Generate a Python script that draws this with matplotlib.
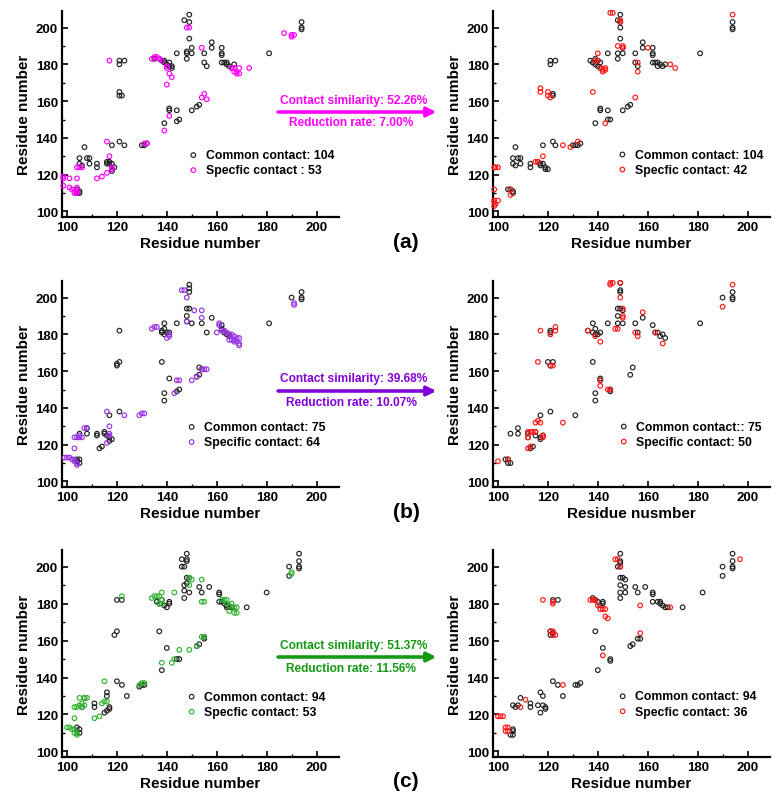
import matplotlib
matplotlib.use('Agg')
import matplotlib.pyplot as plt
from matplotlib.ticker import MultipleLocator

plt.rcParams['font.family'] = ['Liberation Sans', 'DejaVu Sans']
plt.rcParams['font.weight'] = 'bold'

# ==========================================
# 1. DATA (x = residue, y = residue)
# ==========================================
a_left_common = [
    (149, 207), (149, 203), (147, 204), (149, 194), (150, 189), (148, 187), (148, 186), (150, 186), (148, 183), (144, 186),
    (158, 192), (158, 189), (155, 186), (155, 181), (156, 179),
    (162, 189), (162, 186), (162, 185), (162, 181), (163, 181), (164, 181), (164, 180), (165, 179), (166, 178), (167, 180),
    (181, 186), (194, 203), (194, 200), (194, 199),
    (121, 182), (121, 180), (123, 182), (121, 165), (121, 163), (122, 163), (121, 138), (123, 136),
    (130, 136), (131, 136), (132, 137), (107, 135), (105, 129), (105, 126), (106, 125), (108, 129), (109, 129), (109, 126),
    (112, 126), (112, 124), (116, 127), (116, 126), (117, 127), (117, 126), (118, 126), (118, 123), (118, 122), (118, 136), (119, 124),
    (104, 112), (105, 111), (105, 110), (104, 110),
    (135, 183), (137, 183), (138, 182), (139, 182), (139, 181), (140, 180), (141, 179), (142, 178), (141, 181), (142, 179),
    (141, 156), (141, 155), (139, 148), (144, 155), (144, 149), (145, 150), (150, 155), (152, 157), (153, 158)]
a_left_specific = [
    (117, 182), (134, 183), (135, 184), (136, 184), (137, 183), (138, 182), (140, 179), (140, 178), (141, 175), (142, 173), (140, 169),
    (148, 200), (149, 200), (154, 189),
    (166, 178), (167, 178), (167, 176), (168, 176), (168, 175), (169, 178), (169, 175), (173, 178),
    (187, 197), (190, 196), (190, 195), (191, 196),
    (154, 162), (155, 164), (156, 161), (141, 152), (139, 144),
    (116, 138), (117, 130), (116, 121), (118, 124), (118, 123), (114, 119), (112, 118),
    (104, 124), (105, 124), (106, 124), (104, 118), (98.5, 119), (98.5, 118), (98.5, 114), (101, 118),
    (101, 113), (102, 112), (103, 111), (104, 111), (104, 113), (104, 110), (103, 110), (131, 137), (132, 137)]

a_right_common = [
    (149, 207), (149, 203), (149, 200), (149, 194), (148, 204), (148, 186), (150, 186), (148, 183), (150, 189), (144, 186),
    (158, 192), (158, 189), (155, 186), (155, 181), (156, 179),
    (162, 189), (162, 186), (162, 185), (162, 181), (163, 181), (164, 181), (164, 179), (165, 180), (166, 179), (167, 180),
    (181, 186), (194, 203), (194, 200), (194, 199),
    (121, 182), (121, 180), (123, 182), (122, 164), (122, 163), (122, 138), (123, 136), (118, 136),
    (130, 136), (131, 136), (132, 136), (133, 137), (107, 135),
    (106, 129), (106, 126), (107, 125), (108, 129), (109, 129), (109, 126), (113, 126), (113, 124),
    (116, 127), (117, 126), (117, 125), (118, 126), (119, 124), (119, 123), (120, 123),
    (104, 112), (105, 112), (106, 111), (106, 110),
    (137, 182), (138, 181), (139, 180), (140, 179), (141, 178), (140, 182), (141, 181), (139, 183),
    (141, 156), (141, 155), (139, 148), (144, 155), (144, 150), (145, 150), (150, 155), (152, 157), (153, 158)]
a_right_specific = [
    (145, 208), (146, 208), (149, 204), (149, 203), (148, 190), (150, 190), (150, 189), (160, 189), (140, 186),
    (139, 182), (140, 182), (141, 178), (142, 177), (143, 177), (143, 178), (142, 176),
    (156, 181), (156, 176), (169, 180), (171, 178), (194, 207),
    (117, 167), (117, 165), (120, 165), (120, 163), (121, 162), (138, 165), (155, 162), (143, 148),
    (126, 136), (129, 135), (132, 138), (118, 130), (115, 127), (116, 127),
    (98.5, 124), (99, 124), (100, 124), (98.5, 112), (98.5, 106), (98.5, 105), (98.5, 103), (100, 106), (99, 104),
    (105, 112), (105, 109)]

b_left_common = [
    (149, 207), (149, 205), (149, 203), (148, 194), (149, 194), (148, 190), (148, 187), (150, 186), (144, 186),
    (158, 189), (154, 186), (156, 181),
    (162, 185), (162, 183), (163, 181), (164, 180), (165, 179), (181, 186), (190, 200), (194, 203), (194, 200), (194, 199),
    (121, 182), (120, 164), (120, 163), (121, 165), (121, 138), (117, 136),
    (108, 129), (108, 126), (105, 126), (112, 126), (112, 125), (115, 127), (115, 126), (116, 125), (117, 124), (118, 123), (117, 122),
    (113, 118), (114, 119), (104, 112), (105, 112), (105, 110), (104, 111),
    (138, 165), (141, 156), (139, 148), (139, 144), (144, 149), (145, 150), (153, 162), (154, 161), (152, 157), (153, 158),
    (138, 182), (139, 186), (139, 183), (139, 180), (138, 181), (140, 181), (141, 181)]
b_left_specific = [
    (146, 204), (147, 204), (148, 200), (148, 187), (151, 193), (154, 193), (154, 189),
    (134, 183), (135, 184), (136, 184), (140, 178), (141, 179), (141, 180),
    (160, 181), (161, 186), (161, 185), (162, 182), (163, 182), (164, 181), (165, 180), (166, 180), (167, 179), (168, 178),
    (169, 178), (169, 175), (169, 174), (167, 176), (166, 177), (165, 177), (167, 177), (168, 176),
    (191, 197), (191, 196),
    (150, 155), (152, 157), (154, 161), (155, 161), (156, 161), (144, 155), (145, 155), (143, 148),
    (116, 138), (117, 130), (117, 126), (117, 125), (116, 121), (123, 136), (129, 136), (130, 137), (131, 137),
    (103, 118), (103, 124), (104, 124), (105, 124), (106, 124), (107, 129), (108, 129), (105, 125),
    (99, 113), (100, 113), (101, 113), (102, 112), (103, 112), (103, 111), (104, 110), (104, 109)]

b_right_common = [
    (149, 208), (149, 204), (149, 203), (149, 194), (148, 194), (148, 190), (148, 186), (150, 186), (150, 193), (144, 186),
    (158, 189), (155, 186), (156, 181),
    (162, 185), (163, 181), (164, 181), (165, 179), (166, 180), (167, 178), (181, 186), (190, 200), (194, 203), (194, 200), (194, 199),
    (121, 182), (121, 181), (120, 165), (121, 163), (122, 165), (121, 138), (117, 136), (131, 136),
    (105, 126), (108, 129), (108, 126), (112, 126), (112, 124), (115, 127), (115, 125), (117, 124), (117, 123), (118, 125),
    (113, 118), (114, 119), (103, 112), (104, 110), (105, 110), (104, 112),
    (136, 182), (138, 181), (138, 186), (139, 183), (139, 180), (141, 181), (140, 180),
    (138, 165), (141, 156), (141, 155), (139, 148), (139, 144), (145, 149), (145, 150), (154, 162), (153, 158)]
b_right_specific = [
    (145, 208), (146, 208), (145, 207), (149, 208), (149, 200), (147, 183), (148, 183), (150, 194), (150, 190), (150, 189), (158, 192),
    (155, 181), (156, 179), (163, 181), (166, 175), (190, 195), (194, 207),
    (117, 182), (121, 180), (123, 184), (123, 182), (116, 165), (121, 163), (122, 163),
    (136, 182), (139, 179), (141, 176), (141, 155), (141, 152), (145, 150), (144, 150),
    (115, 132), (116, 133), (117, 132), (126, 132),
    (112, 127), (113, 127), (114, 127), (115, 127), (112, 124), (118, 125), (118, 124),
    (112, 118), (113, 119), (100, 111), (104, 112)]

c_left_common = [
    (148, 207), (148, 204), (148, 203), (146, 204), (146, 200), (147, 200),
    (148, 194), (147, 190), (147, 187), (147, 183), (149, 186), (149, 194), (148, 191),
    (153, 189), (154, 186), (157, 189),
    (161, 186), (161, 185), (161, 181), (162, 181), (163, 180), (164, 179), (164, 178), (165, 178), (166, 178), (172, 178),
    (180, 186), (189, 200), (189, 195), (193, 207), (193, 203), (193, 200), (193, 199),
    (120, 182), (122, 182), (119, 163), (120, 165), (120, 138), (122, 136), (124, 130),
    (137, 165), (140, 156), (138, 144), (144, 150), (145, 150), (152, 157), (153, 158), (155, 161), (155, 162),
    (129, 135), (130, 136), (131, 136),
    (116, 132), (116, 130), (115, 121), (116, 122), (117, 123), (117, 124),
    (111, 126), (111, 124), (106, 124), (107, 129), (104, 113), (105, 110), (105, 112),
    (136, 181), (137, 180), (138, 182), (139, 179), (140, 178), (141, 181), (141, 180)]
c_left_specific = [
    (149, 194), (149, 190), (150, 193), (154, 193), (154, 181), (155, 181),
    (134, 183), (135, 184), (136, 184), (137, 184), (138, 182), (138, 186), (143, 186), (137, 180), (138, 180),
    (162, 182), (163, 182), (164, 182), (164, 180), (165, 179), (166, 180), (167, 178), (168, 178), (168, 175), (167, 175), (165, 176),
    (190, 197), (190, 196), (122, 184),
    (149, 155), (152, 157), (154, 162), (155, 162), (145, 155), (142, 148), (143, 150), (138, 148),
    (115, 138), (115, 127), (114, 126), (116, 127), (111, 118), (113, 119), (129, 136), (130, 137), (131, 137),
    (103, 118), (103, 124), (104, 124), (105, 125), (105, 129), (106, 124), (107, 125), (107, 129), (108, 129), (106, 126),
    (100, 113), (101, 113), (102, 112), (103, 112), (104, 110), (103, 110), (104, 109)]

c_right_common = [
    (149, 207), (149, 203), (149, 202), (148, 200), (149, 200),
    (149, 194), (150, 194), (149, 190), (149, 186), (149, 183), (151, 193), (151, 189), (151, 186),
    (155, 189), (156, 186), (159, 189),
    (162, 186), (162, 185), (162, 181), (164, 181), (165, 181), (165, 180), (166, 179), (167, 178), (168, 178), (174, 178),
    (182, 186), (190, 200), (190, 195), (194, 207), (194, 203), (194, 200), (194, 199),
    (122, 182), (124, 182), (121, 165), (121, 163), (122, 164), (122, 138), (124, 136), (126, 130),
    (139, 165), (142, 156), (140, 144), (145, 149), (145, 150), (153, 157), (154, 158), (156, 161), (157, 161),
    (131, 136), (132, 136), (133, 137),
    (117, 132), (118, 130), (118, 125), (117, 121), (119, 123), (119, 124), (116, 125),
    (113, 126), (113, 124), (106, 125), (107, 124), (108, 125), (109, 129),
    (106, 111), (106, 109), (105, 109), (106, 112),
    (138, 183), (139, 182), (140, 181), (141, 179), (142, 181), (142, 180)]
c_right_specific = [
    (147, 204), (148, 204), (149, 200), (157, 179), (157, 164), (169, 178), (197, 204),
    (118, 182), (122, 181), (122, 180), (121, 165), (122, 165), (122, 163), (123, 163),
    (137, 182), (138, 182), (139, 182), (140, 179), (141, 177), (142, 177), (143, 177), (143, 173), (144, 172),
    (142, 152), (126, 136), (111, 128), (109, 124),
    (100, 119), (101, 119), (102, 119), (103, 113), (104, 113), (103, 111), (104, 111)]

legend_labels = {
    'a_left': ('Common contact: 104', 'Specfic contact : 53'),
    'a_right': ('Common contact: 104', 'Specfic contact: 42'),
    'b_left': ('Common contact: 75', 'Specific contact: 64'),
    'b_right': ('Common contact:: 75', 'Specific contact: 50'),
    'c_left': ('Common contact: 94', 'Specfic contact: 53'),
    'c_right': ('Common contact: 94', 'Specfic contact: 36'),
}
similarity_text = ['Contact similarity: 52.26%', 'Contact similarity: 39.68%', 'Contact similarity: 51.37%']
reduction_text = ['Reduction rate: 7.00%', 'Reduction rate: 10.07%', 'Reduction rate: 11.56%']
row_tags = ['(a)', '(b)', '(c)']

# colours
row_point_colors = ['#ff00ff', '#9933e6', '#33b333']
row_text_colors = ['#ff00ff', '#8000d9', '#139913']
red = '#ff1a1a'

# ==========================================
# 2. FIGURE
# ==========================================
W, H = 782, 804
fig = plt.figure(figsize=(W / 100, H / 100), dpi=100)


def px_rect(left, top, right, bottom):
    return [left / W, 1 - bottom / H, (right - left) / W, (bottom - top) / H]


rows = [
    ('a', 12, 218, a_left_common, a_left_specific, a_right_common, a_right_specific),
    ('b', 282, 488, b_left_common, b_left_specific, b_right_common, b_right_specific),
    ('c', 551, 758, c_left_common, c_left_specific, c_right_common, c_right_specific),
]
# legend anchor (axes fraction) for each panel
legend_anchor = {
    'a_left': (0.452, 0.263), 'a_right': (0.445, 0.266),
    'b_left': (0.446, 0.254), 'b_right': (0.450, 0.256),
    'c_left': (0.446, 0.254), 'c_right': (0.446, 0.256),
}


def draw_panel(ax, common, specific, spec_color, labels, anchor, xlabel):
    cx, cy = zip(*common)
    sx, sy = zip(*specific)
    ax.scatter(cx, cy, s=11, facecolors='none', edgecolors='#222222', linewidths=0.85,
               label=labels[0], clip_on=False, zorder=3)
    ax.scatter(sx, sy, s=11, facecolors='none', edgecolors=spec_color, linewidths=0.85,
               label=labels[1], clip_on=False, zorder=4)
    ax.set_xlim(98, 209)
    ax.set_ylim(97, 209)
    ax.xaxis.set_major_locator(MultipleLocator(20))
    ax.xaxis.set_minor_locator(MultipleLocator(10))
    ax.yaxis.set_major_locator(MultipleLocator(20))
    ax.yaxis.set_minor_locator(MultipleLocator(10))
    for side in ['top', 'right']:
        ax.spines[side].set_visible(False)
    for side in ['left', 'bottom']:
        ax.spines[side].set_linewidth(1.6)
    ax.tick_params(which='major', direction='in', length=4, width=1.2, labelsize=9.5, pad=3)
    ax.tick_params(which='minor', direction='in', length=2, width=1.0)
    for lbl in ax.get_xticklabels() + ax.get_yticklabels():
        lbl.set_fontweight('bold')
    ax.set_xlabel(xlabel, fontsize=11, fontweight='bold', labelpad=2)
    ax.set_ylabel('Residue number', fontsize=11, fontweight='bold', labelpad=3)
    ax.legend(loc='center left', bbox_to_anchor=anchor, frameon=False,
              handlelength=1.0, handletextpad=0.5, labelspacing=0.25, borderpad=0,
              borderaxespad=0, prop={'weight': 'bold', 'size': 8.8})


for i, (tag, top, bottom, lc, ls, rc, rs) in enumerate(rows):
    ax_l = fig.add_axes(px_rect(62, top, 339, bottom))
    ax_r = fig.add_axes(px_rect(493, top, 770, bottom))
    draw_panel(ax_l, lc, ls, row_point_colors[i], legend_labels[tag + '_left'],
               legend_anchor[tag + '_left'], 'Residue number')
    right_xlabel = 'Residue nusmber' if tag == 'b' else 'Residue number'
    draw_panel(ax_r, rc, rs, red, legend_labels[tag + '_right'],
               legend_anchor[tag + '_right'], right_xlabel)

# arrows and texts between the panels (figure pixel positions)
arrow_rows = [(101, 113, 123), (379, 392, 403), (646, 658, 669)]
for i, (y_sim, y_arr, y_red) in enumerate(arrow_rows):
    col = row_text_colors[i]
    fig.text(354 / W, 1 - y_sim / H, similarity_text[i], color=col, fontsize=8.6,
             fontweight='bold', ha='center', va='center')
    fig.text(351 / W, 1 - y_red / H, reduction_text[i], color=col, fontsize=8.6,
             fontweight='bold', ha='center', va='center')
    fig.add_artist(plt.annotate('', xy=(436 / W, 1 - y_arr / H), xytext=(278 / W, 1 - y_arr / H),
                                xycoords='figure fraction', textcoords='figure fraction',
                                arrowprops=dict(arrowstyle='-|>', color=col, lw=2.2,
                                                mutation_scale=14, shrinkA=0, shrinkB=0)))

for i, y in enumerate([242, 512, 782]):
    fig.text(406 / W, 1 - y / H, row_tags[i], fontsize=15, fontweight='bold',
             ha='center', va='center')

plt.savefig('out.png', dpi=100)
